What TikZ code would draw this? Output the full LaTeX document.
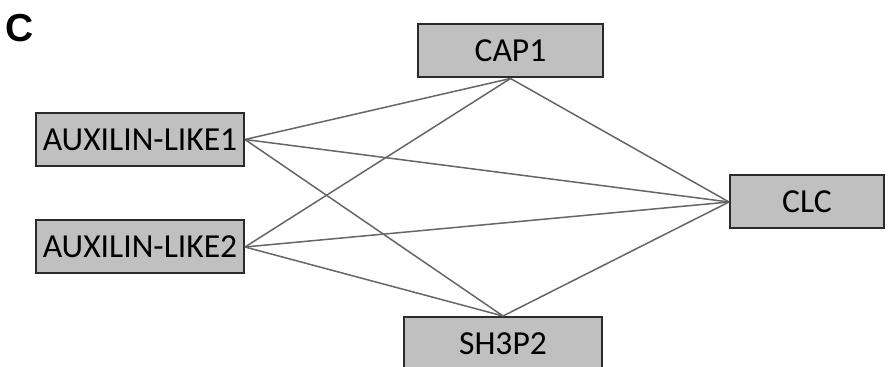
\documentclass[tikz,border=0pt]{standalone}
\usepackage{fontspec}
\setmainfont{Carlito}
\newfontfamily\panelfont{Liberation Sans}
\usepackage{tikz}
\usetikzlibrary{positioning}
\definecolor{boxgray}{HTML}{C0C0C0}
\definecolor{boxline}{HTML}{2B2B2B}
\definecolor{linkgray}{HTML}{666666}

\begin{document}
\begin{tikzpicture}[
    x=0.5pt, y=-0.5pt,
    protein/.style={rectangle, draw=boxline, fill=boxgray, line width=1pt, minimum height=26.5pt, inner sep=0pt, font=\fontsize{16.8}{19}\selectfont},
    link/.style={draw=linkgray, line width=0.75pt},
    panel/.style={font=\panelfont\bfseries\fontsize{19.5}{22}\selectfont}
]
    \useasboundingbox (0,0) rectangle (888,367);
    \clip (0,0) rectangle (888,367);

    % Panel label
    \node[panel] (lbl) at (20,28) {C};

    % Proteins
    \node[protein, minimum width=104pt] (aux1) at (140,139.5) {AUXILIN-LIKE1};
    \node[protein, minimum width=104pt] (aux2) at (140,247) {AUXILIN-LIKE2};
    \node[protein, minimum width=92.5pt] (cap1) at (510.5,51) {CAP1};
    \node[protein, minimum width=77pt] (clc) at (807,202) {CLC};
    \node[protein, minimum width=99pt] (sh3p2) at (503,343.5) {SH3P2};

    % Interactions
    \draw[link] (aux1.east) -- (cap1.south);
    \draw[link] (aux1.east) -- (clc.west);
    \draw[link] (aux1.east) -- (sh3p2.north);
    \draw[link] (aux2.east) -- (cap1.south);
    \draw[link] (aux2.east) -- (clc.west);
    \draw[link] (aux2.east) -- (sh3p2.north);
    \draw[link] (cap1.south) -- (clc.west);
    \draw[link] (sh3p2.north) -- (clc.west);

\end{tikzpicture}
\end{document}
